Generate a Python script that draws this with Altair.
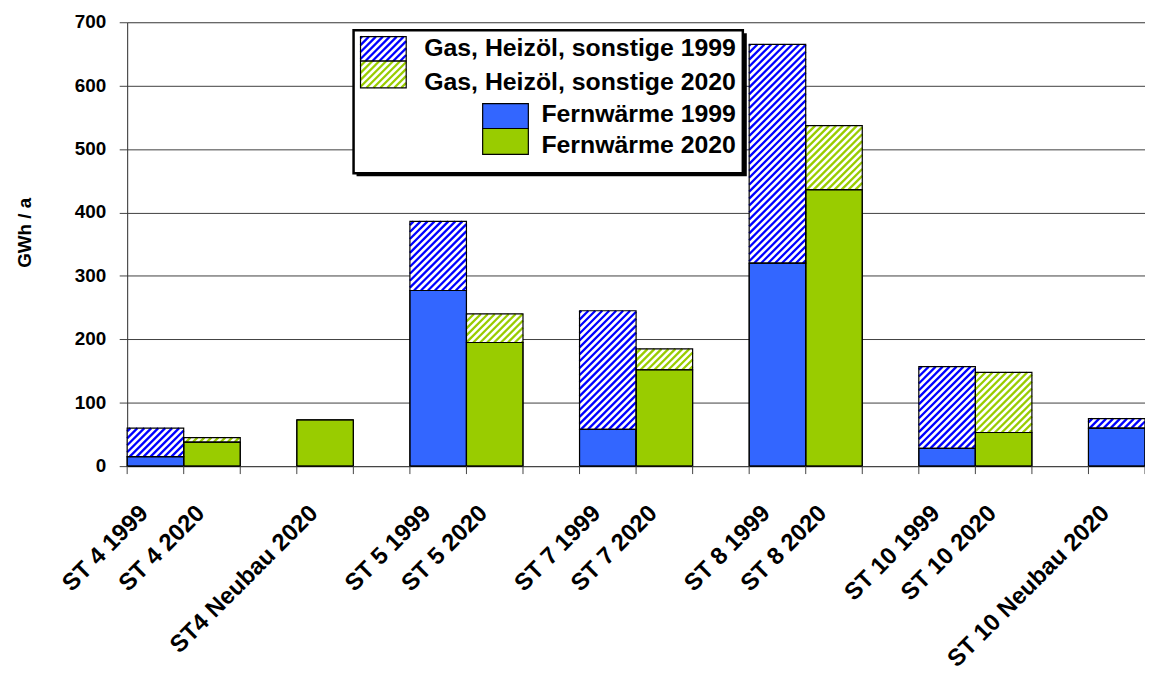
import json
import math
import altair as alt
import pandas as pd

# ---------------- data ----------------
categories = ["ST 4 1999", "ST 4 2020", "", "ST4 Neubau 2020", "",
              "ST 5 1999", "ST 5 2020", "", "ST 7 1999", "ST 7 2020", "",
              "ST 8 1999", "ST 8 2020", "", "ST 10 1999", "ST 10 2020", "",
              "ST 10 Neubau 2020"]
fernwaerme = [15, 38, None, 73, None, 277, 195, None, 58, 152, None,
              320, 436, None, 28, 53, None, 60]
sonstige = [45, 7, None, 0, None, 109, 45, None, 187, 33, None,
            345, 101, None, 129, 95, None, 15]
colour_year = ["1999", "2020", None, "2020", None, "1999", "2020", None,
               "1999", "2020", None, "1999", "2020", None, "1999", "2020",
               None, "1999"]
y_ticks = [0, 100, 200, 300, 400, 500, 600, 700]
y_title = "GWh / a"
legend_labels = ["Gas, Heizöl, sonstige 1999", "Gas, Heizöl, sonstige 2020",
                 "Fernwärme 1999", "Fernwärme 2020"]

SOLID = {"1999": "#3366FF", "2020": "#99CC00"}
HATCH = {"1999": "#0000FF", "2020": "#99CC00"}
FONT = "Liberation Sans"

W, H = 1025, 447
NSLOT = len(categories)
YMAX = 700
SX = W / NSLOT
SY = H / YMAX
STEP = 7.0


def hatch_lines(x0, x1, lo, hi, col):
    wp = (x1 - x0) * SX
    hp = (hi - lo) * SY
    base = x0 * SX - lo * SY
    rows = []
    kmin = math.ceil((-wp - base) / STEP)
    kmax = math.floor((hp - base) / STEP)
    for k in range(kmin, kmax + 1):
        c = k * STEP + base
        u0 = max(0.0, -c)
        u1 = min(wp, hp - c)
        if u1 - u0 > 0.4:
            rows.append({"x": x0 + u0 / SX, "y": lo + (u0 + c) / SY,
                         "x2": x0 + u1 / SX, "y2": lo + (u1 + c) / SY,
                         "col": col})
    return rows


solid_rows, hatch_rows, line_rows = [], [], []
for i, cat in enumerate(categories):
    if fernwaerme[i] is None:
        continue
    yr = colour_year[i]
    f = fernwaerme[i]
    s = sonstige[i]
    solid_rows.append({"x0": i, "x1": i + 1, "lo": 0, "hi": f,
                       "fill": SOLID[yr]})
    if s and s > 0:
        hatch_rows.append({"x0": i, "x1": i + 1, "lo": f, "hi": f + s,
                           "fill": "white"})
        line_rows += hatch_lines(i, i + 1, f, f + s, HATCH[yr])

solid_df = pd.DataFrame(solid_rows)
hatch_df = pd.DataFrame(hatch_rows)
line_df = pd.DataFrame(line_rows)
outline_df = pd.concat([solid_df, hatch_df], ignore_index=True)


# legend swatches (pixel layout converted to data units)
def px_x(p):
    return p / SX


def px_y(p):
    return (H - p) / SY


leg_hatch = [(235, 281, 14.5, 39, "1999"), (235, 281, 39, 66, "2020")]
leg_solid = [(358, 404, 82, 107, "1999"), (358, 404, 107, 133, "2020")]
lh_rows, ll_rows, ls_rows = [], [], []
for (a, b, t, bt, yr) in leg_hatch:
    r = {"x0": px_x(a), "x1": px_x(b), "lo": px_y(bt), "hi": px_y(t),
         "fill": "white"}
    lh_rows.append(r)
    ll_rows += hatch_lines(r["x0"], r["x1"], r["lo"], r["hi"], HATCH[yr])
for (a, b, t, bt, yr) in leg_solid:
    ls_rows.append({"x0": px_x(a), "x1": px_x(b), "lo": px_y(bt),
                    "hi": px_y(t), "fill": SOLID[yr]})
leg_rect_df = pd.DataFrame(lh_rows + ls_rows)
leg_line_df = pd.DataFrame(ll_rows)

xscale = alt.Scale(domain=[0, NSLOT], nice=False, zero=False)
yscale = alt.Scale(domain=[0, YMAX], nice=False)

label_vals = [i + 0.5 for i, c in enumerate(categories) if c]
xaxis = alt.Axis(values=label_vals,
                 labelExpr=json.dumps(categories) + "[floor(datum.value)]",
                 title=None, labelFontSize=24)
yaxis = alt.Axis(values=y_ticks, title=None, labels=False)


def X(field):
    return alt.X(field, type="quantitative", scale=xscale, axis=xaxis)


def Y(field):
    return alt.Y(field, type="quantitative", scale=yscale, axis=yaxis)


def rect_layer(df, stroke=None, fill_field=True, sw=1.0):
    kw = {}
    if stroke:
        kw["stroke"] = stroke
        kw["strokeWidth"] = sw
    if fill_field:
        mark = alt.Chart(df).mark_rect(**kw)
        enc = {"fill": alt.Fill("fill:N", scale=None)}
    else:
        mark = alt.Chart(df).mark_rect(fillOpacity=0, **kw)
        enc = {}
    return mark.encode(x=X("x0"), x2="x1:Q", y=Y("lo"), y2="hi:Q", **enc)


def line_layer(df):
    return alt.Chart(df).mark_rule(strokeWidth=2.3).encode(
        x=X("x"), x2="x2:Q", y=Y("y"), y2="y2:Q",
        color=alt.Color("col:N", scale=None))


bounds_df = pd.DataFrame({"b": list(range(NSLOT + 1))})
xticks = alt.Chart(bounds_df).mark_rule(color="#444444", strokeWidth=1).encode(
    x=X("b"), y=alt.value(H), y2=alt.value(H + 8))

ylab_df = pd.DataFrame({"v": y_ticks, "t": [str(v) for v in y_ticks]})
ylabels = alt.Chart(ylab_df).mark_text(
    font=FONT, fontWeight="bold", fontSize=19, align="right",
    baseline="middle", color="black", dx=0).encode(
    x=alt.value(-21), y=Y("v"), text="t:N")
ytitle = alt.Chart(pd.DataFrame({"t": [y_title]})).mark_text(
    font=FONT, fontWeight="bold", fontSize=19, angle=270, align="center",
    baseline="middle", color="black").encode(
    x=alt.value(-103), y=alt.value(212), text="t:N")

one = pd.DataFrame({"a": [0]})
leg_shadow = alt.Chart(one).mark_rect(fill="black").encode(
    x=alt.value(231), x2=alt.value(624), y=alt.value(11), y2=alt.value(155))
leg_box = alt.Chart(one).mark_rect(fill="white", stroke="black",
                                   strokeWidth=2.5).encode(
    x=alt.value(228), x2=alt.value(620), y=alt.value(8), y2=alt.value(152))

text_y = [34, 68, 100, 132]
leg_texts = [alt.Chart(one).mark_text(
    text=lab, font=FONT, fontWeight="bold", fontSize=25, align="right",
    baseline="alphabetic", color="black").encode(
    x=alt.value(613), y=alt.value(ty)) for lab, ty in zip(legend_labels, text_y)]

chart = alt.layer(
    rect_layer(solid_df, stroke="black"),
    rect_layer(hatch_df),
    line_layer(line_df),
    rect_layer(outline_df, stroke="black", fill_field=False, sw=1.2),
    xticks,
    ylabels,
    ytitle,
    leg_shadow,
    leg_box,
    rect_layer(leg_rect_df),
    line_layer(leg_line_df),
    rect_layer(leg_rect_df, stroke="black", fill_field=False, sw=1.2),
    *leg_texts,
).properties(
    width=W, height=H,
    autosize=alt.AutoSizeParams(type="none"),
    padding={"left": 120, "top": 12, "right": 0, "bottom": 210},
).configure_view(stroke=None, clip=False).configure(background="white").configure_axis(
    labelFont=FONT, labelFontWeight="bold", labelColor="black",
    labelOverlap=False, labelLimit=400,
).configure_axisX(
    ticks=False, grid=False, domain=True, domainColor="#444444",
    domainWidth=1, labelAngle=-45, labelAlign="right",
    labelBaseline="top", labelPadding=35, labelOffset=-20,
    labelFontSize=24, labelBound=False, labelFlush=False,
).configure_axisY(
    grid=True, gridColor="#404040", gridWidth=1, gridOpacity=1,
    tickSize=8, tickColor="#444444", domainColor="#333333",
)

chart.save("out.html", embed_options={"renderer": "svg", "actions": False})
